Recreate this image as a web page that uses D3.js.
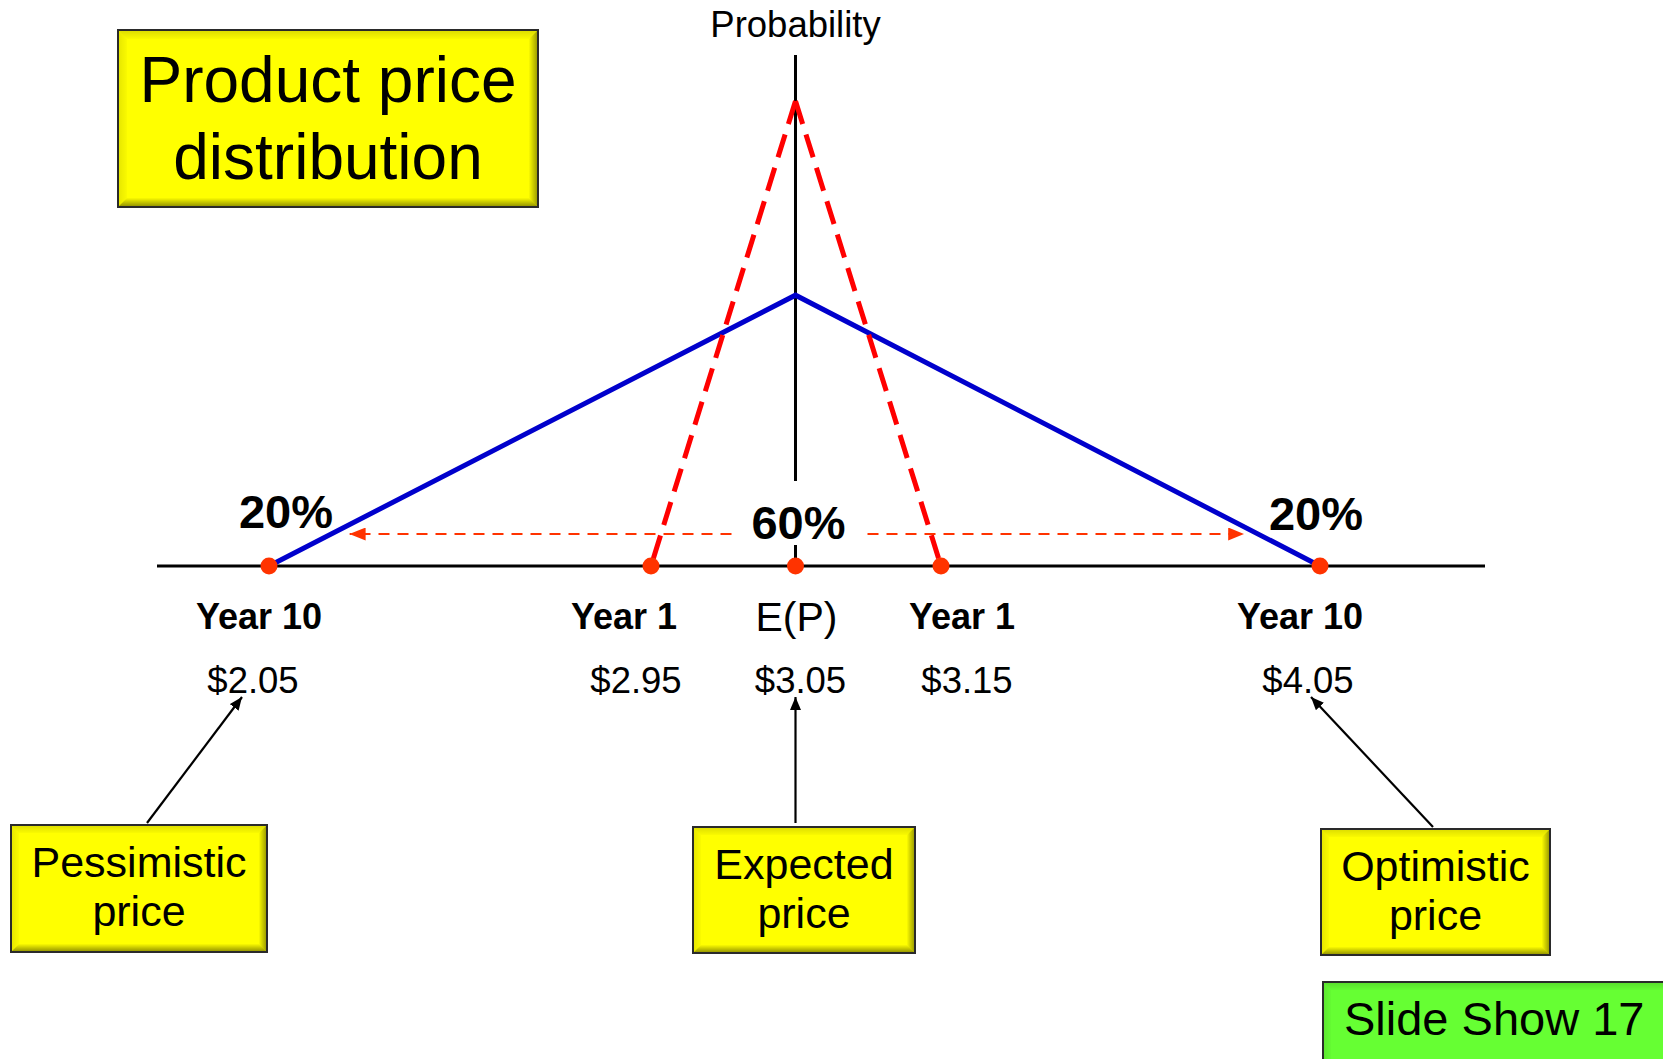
<!DOCTYPE html>
<html>
<head>
<meta charset="utf-8">
<script src="https://cdn.jsdelivr.net/npm/d3@7"></script>
<style>
  html, body { margin: 0; padding: 0; background: #fff; }
  svg { display: block; font-family: "Liberation Sans", Arial, sans-serif; }
</style>
</head>
<body>
<svg id="chart" width="1663" height="1059"></svg>
<script>
// ---- data ----
const prices = [2.05, 2.95, 3.05, 3.15, 4.05];
const horizonLabels = ["Year 10", "Year 1", "E(P)", "Year 1", "Year 10"];
const priceLabels = ["$2.05", "$2.95", "$3.05", "$3.15", "$4.05"];
// relative probability at each price (triangular distributions)
const yearOneCurve = [[2.95, 0], [3.05, 0.91], [3.15, 0]];
const yearTenCurve = [[2.05, 0], [3.05, 0.53], [4.05, 0]];
const shareLabels = ["20%", "60%", "20%"];
const shareAt = [2.05, 3.05, 4.05];
const boxTitles = [["Pessimistic", "price"], ["Expected", "price"], ["Optimistic", "price"]];
const boxTargets = [2.05, 3.05, 4.05];
const rangeArrowEnds = [2.24, 3.87];

// ---- layout ----
const svg = d3.select("#chart");
const baseY = 566, topY = 55;
const x = d3.scaleLinear().domain(prices).range([269, 651, 795.5, 941, 1320]);
const y = d3.scaleLinear().domain([0, 1]).range([baseY, topY]);
const cx = x(3.05);

const defs = svg.append("defs");
function marker(id, color, len, wid) {
  defs.append("marker").attr("id", id)
    .attr("viewBox", `0 0 ${len} ${wid}`).attr("refX", len).attr("refY", wid / 2)
    .attr("markerWidth", len).attr("markerHeight", wid)
    .attr("markerUnits", "userSpaceOnUse").attr("orient", "auto")
    .append("path").attr("d", `M0,0L${len},${wid / 2}L0,${wid}Z`).attr("fill", color);
}
marker("arrBlack", "#000", 13, 11);
marker("arrRed", "#ff3300", 16, 13);

// bevel gradients (outer edge dark -> inner transparent)
function grad(id, x1, y1, x2, y2, a) {
  const g = defs.append("linearGradient").attr("id", id)
    .attr("x1", x1).attr("y1", y1).attr("x2", x2).attr("y2", y2);
  g.append("stop").attr("offset", 0).attr("stop-color", "#000").attr("stop-opacity", a);
  g.append("stop").attr("offset", 1).attr("stop-color", "#000").attr("stop-opacity", 0.02);
}
grad("bvTop", 0, 0, 0, 1, 0.14);
grad("bvLeft", 0, 0, 1, 0, 0.1);
grad("bvRight", 1, 0, 0, 0, 0.42);
grad("bvBottom", 0, 1, 0, 0, 0.45);

function bevelBox(x0, y0, w, h, fill, b = 9) {
  const g = svg.append("g");
  g.append("rect").attr("x", x0).attr("y", y0).attr("width", w).attr("height", h).attr("fill", fill);
  const polys = [
    ["bvTop", [[x0, y0], [x0 + w, y0], [x0 + w - b, y0 + b], [x0 + b, y0 + b]]],
    ["bvLeft", [[x0, y0], [x0 + b, y0 + b], [x0 + b, y0 + h - b], [x0, y0 + h]]],
    ["bvRight", [[x0 + w, y0], [x0 + w, y0 + h], [x0 + w - b, y0 + h - b], [x0 + w - b, y0 + b]]],
    ["bvBottom", [[x0, y0 + h], [x0 + b, y0 + h - b], [x0 + w - b, y0 + h - b], [x0 + w, y0 + h]]]
  ];
  polys.forEach(([id, pts]) => g.append("polygon")
    .attr("points", pts.map(p => p.join(",")).join(" ")).attr("fill", `url(#${id})`));
  g.append("rect").attr("x", x0).attr("y", y0).attr("width", w).attr("height", h)
    .attr("fill", "none").attr("stroke", "#2a2a2a").attr("stroke-width", 2);
  return g;
}

// ---- title box ----
const title = bevelBox(118, 30, 420, 177, "#ffff00");
title.append("text").attr("x", 328).attr("y", 102).attr("text-anchor", "middle")
  .attr("font-size", 64).text("Product price");
title.append("text").attr("x", 328).attr("y", 179).attr("text-anchor", "middle")
  .attr("font-size", 64).text("distribution");

// ---- axes ----
svg.append("line").attr("x1", 157).attr("x2", 1485).attr("y1", baseY).attr("y2", baseY)
  .attr("stroke", "#000").attr("stroke-width", 3);
svg.append("line").attr("x1", cx).attr("x2", cx).attr("y1", y(1)).attr("y2", baseY)
  .attr("stroke", "#000").attr("stroke-width", 3);
svg.append("text").attr("x", cx).attr("y", 37).attr("text-anchor", "middle")
  .attr("font-size", 36.5).text("Probability");

// ---- distributions ----
const line = d3.line().x(d => x(d[0])).y(d => y(d[1]));
svg.append("path").datum(yearTenCurve).attr("d", line)
  .attr("fill", "none").attr("stroke", "#0000cc").attr("stroke-width", 5)
  .attr("stroke-linejoin", "miter");
// year-1 sides drawn downward from the peak so the dashes start at the apex
const peak = yearOneCurve[1];
[yearOneCurve[0], yearOneCurve[2]].forEach(base => {
  svg.append("path").datum([peak, base]).attr("d", line)
    .attr("fill", "none").attr("stroke", "#ff0000").attr("stroke-width", 5)
    .attr("stroke-dasharray", "24,11");
});

// ---- range arrows ----
const arrowY = baseY - 32;
svg.append("line").attr("x1", cx - 64).attr("x2", x(rangeArrowEnds[0])).attr("y1", arrowY).attr("y2", arrowY)
  .attr("stroke", "#ff3300").attr("stroke-width", 2.2).attr("stroke-dasharray", "11,8")
  .attr("marker-end", "url(#arrRed)");
svg.append("line").attr("x1", cx + 72).attr("x2", x(rangeArrowEnds[1])).attr("y1", arrowY).attr("y2", arrowY)
  .attr("stroke", "#ff3300").attr("stroke-width", 2.2).attr("stroke-dasharray", "11,8")
  .attr("marker-end", "url(#arrRed)");

// ---- share labels ----
const shareNudge = [[17, -38], [3, -27], [-4, -36]];
shareLabels.forEach((s, i) => {
  const tx = x(shareAt[i]) + shareNudge[i][0], ty = baseY + shareNudge[i][1];
  if (i === 1) {
    svg.append("rect").attr("x", tx - 48).attr("y", 481).attr("width", 96).attr("height", ty + 6 - 481)
      .attr("fill", "#fff");
  }
  svg.append("text").attr("x", tx).attr("y", ty).attr("text-anchor", "middle")
    .attr("font-size", 47).attr("font-weight", "bold").text(s);
});

// ---- price points ----
svg.selectAll("circle.pt").data(prices).join("circle").attr("class", "pt")
  .attr("cx", d => x(d)).attr("cy", baseY).attr("r", 8.5).attr("fill", "#ff3300");

// ---- labels under the axis ----
const horizonNudge = [-10, -27, 1, 21, -20];
horizonLabels.forEach((t, i) => {
  const isEP = t === "E(P)";
  svg.append("text").attr("x", x(prices[i]) + horizonNudge[i]).attr("y", isEP ? 631 : 629)
    .attr("text-anchor", "middle").attr("font-size", isEP ? 41 : 36)
    .attr("font-weight", isEP ? "normal" : "bold").text(t);
});
const priceNudge = [-16, -15, 5, 26, -12];
priceLabels.forEach((t, i) => {
  svg.append("text").attr("x", x(prices[i]) + priceNudge[i]).attr("y", 693)
    .attr("text-anchor", "middle").attr("font-size", 36.5).text(t);
});

// ---- callout boxes ----
const boxes = [
  { x: 11, y: 825, w: 256, h: 127, from: [147, 823], tip: -27 },
  { x: 693, y: 827, w: 222, h: 126, from: [cx, 823], tip: 0 },
  { x: 1321, y: 829, w: 229, h: 126, from: [1433, 827], tip: -9 }
];
boxes.forEach((b, i) => {
  svg.append("line").attr("x1", b.from[0]).attr("y1", b.from[1])
    .attr("x2", x(boxTargets[i]) + b.tip).attr("y2", 697)
    .attr("stroke", "#000").attr("stroke-width", 2.2).attr("marker-end", "url(#arrBlack)");
  const g = bevelBox(b.x, b.y, b.w, b.h, "#ffff00", 8);
  const mx = b.x + b.w / 2;
  g.append("text").attr("x", mx).attr("y", b.y + 52).attr("text-anchor", "middle")
    .attr("font-size", 43).text(boxTitles[i][0]);
  g.append("text").attr("x", mx).attr("y", b.y + 101).attr("text-anchor", "middle")
    .attr("font-size", 43).text(boxTitles[i][1]);
});

// ---- slide tag ----
const tag = bevelBox(1323, 982, 360, 100, "#66ff33", 8);
tag.append("text").attr("x", 1344).attr("y", 1035).attr("font-size", 47).text("Slide Show 17");
</script>
</body>
</html>
